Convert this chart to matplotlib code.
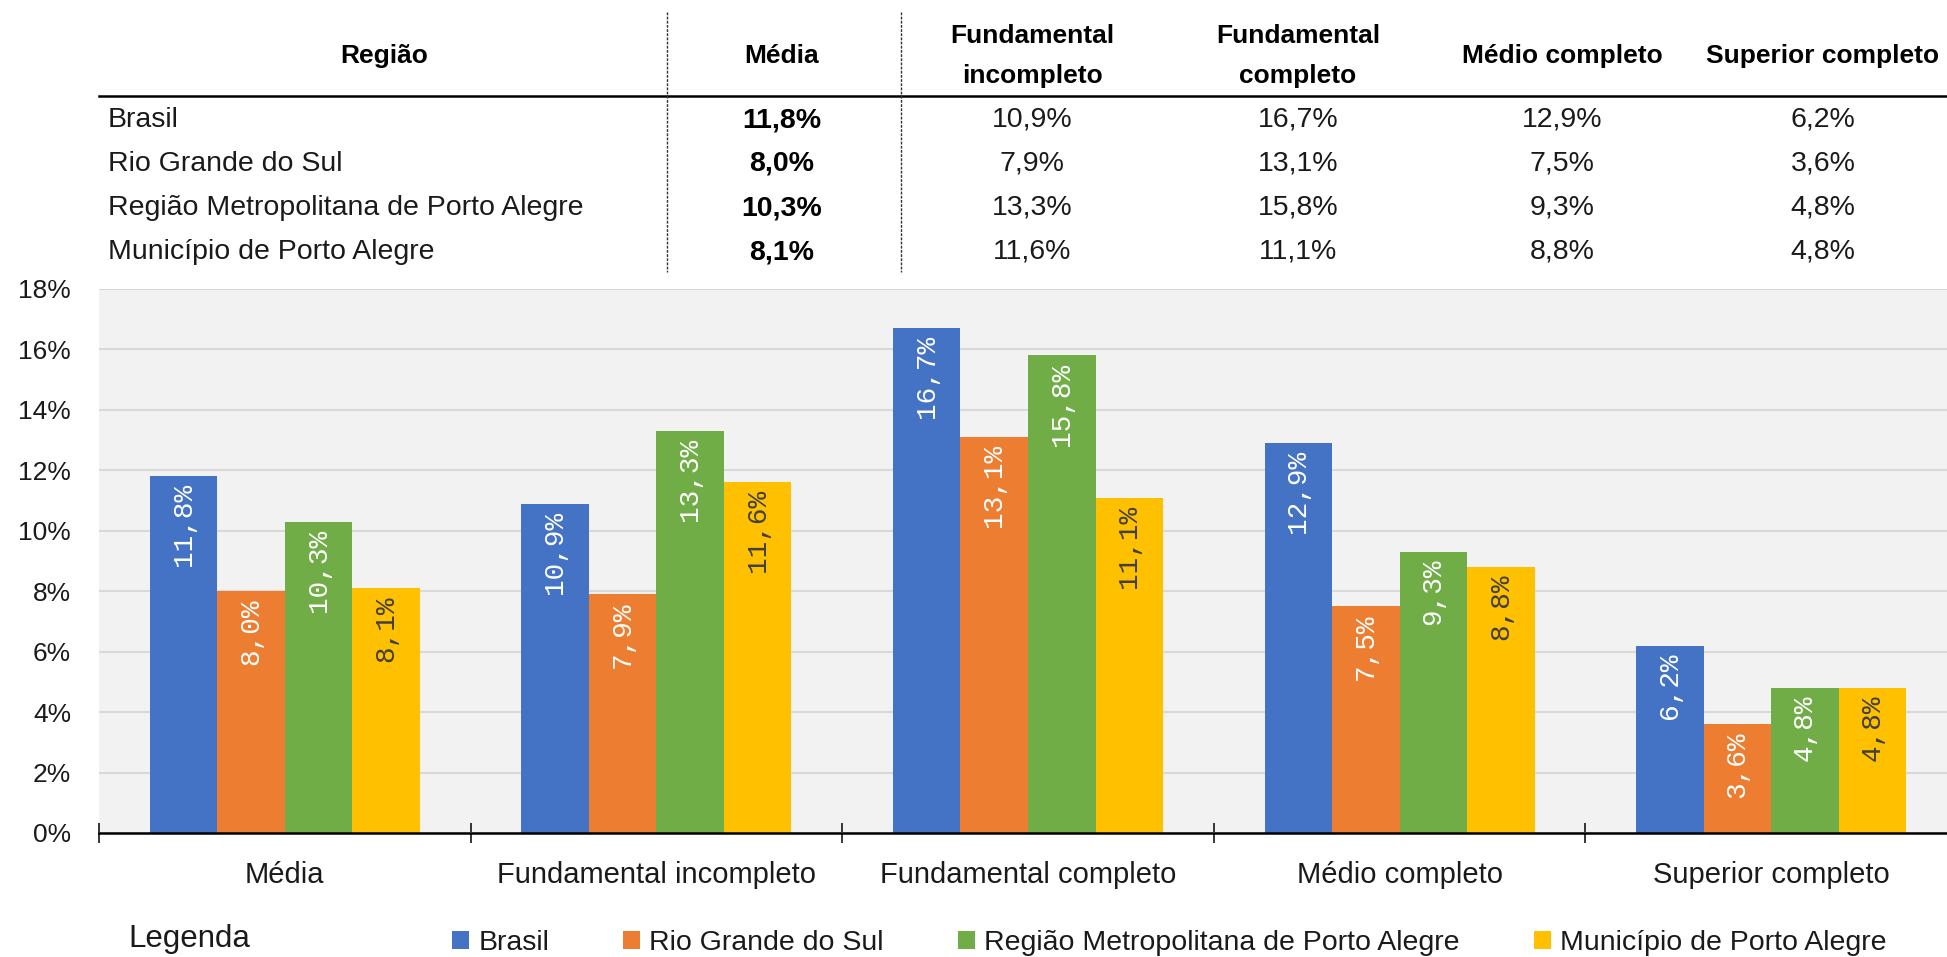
import matplotlib
matplotlib.use('Agg')
import matplotlib.pyplot as plt
from matplotlib.lines import Line2D
import numpy as np

# ---------------- data ----------------
categories = ['Média', 'Fundamental incompleto', 'Fundamental completo',
              'Médio completo', 'Superior completo']
table_headers = ['Média', 'Fundamental\nincompleto', 'Fundamental\ncompleto',
                 'Médio completo', 'Superior completo']
regions = ['Brasil', 'Rio Grande do Sul',
           'Região Metropolitana de Porto Alegre', 'Município de Porto Alegre']
brasil = [11.8, 10.9, 16.7, 12.9, 6.2]
rio_grande_do_sul = [8.0, 7.9, 13.1, 7.5, 3.6]
rm_porto_alegre = [10.3, 13.3, 15.8, 9.3, 4.8]
municipio_porto_alegre = [8.1, 11.6, 11.1, 8.8, 4.8]
y_ticks = [0, 2, 4, 6, 8, 10, 12, 14, 16, 18]

series = [brasil, rio_grande_do_sul, rm_porto_alegre, municipio_porto_alegre]
colors = ['#4472C4', '#ED7D31', '#70AD47', '#FFC000']
label_colors = ['white', 'white', 'white', '#404040']

plt.rcParams['font.family'] = ['Liberation Sans', 'DejaVu Sans']
TXT = '#1a1a1a'


def fmt(v):
    return f'{v:.1f}%'.replace('.', ',')


W, H = 1947, 957
fig = plt.figure(figsize=(W / 100, H / 100), dpi=100)
fig.patch.set_facecolor('white')


def fx(px):
    return px / W


def fy(py):
    return 1 - py / H


# ---------------- chart ----------------
ax = fig.add_axes([fx(99), fy(833), (1957 - 99) / W, (833 - 289) / H])
ax.set_facecolor('#F2F2F2')
ax.set_xlim(-0.5, len(categories) - 0.5)
ax.set_ylim(0, 18)
ax.set_axisbelow(True)
ax.yaxis.grid(True, color='#D9D9D9', linewidth=1.5)
for s in ['left', 'right', 'top']:
    ax.spines[s].set_visible(False)
ax.spines['bottom'].set_color('black')
ax.spines['bottom'].set_linewidth(1.8)

x = np.arange(len(categories))
w = 0.1817
handles = []
for i, (vals, col, tcol, name) in enumerate(zip(series, colors, label_colors, regions)):
    bars = ax.bar(x + (i - 1.5) * w, vals, w, color=col, linewidth=0, label=name)
    handles.append(bars)
    for b, v in zip(bars, vals):
        ax.annotate(fmt(v), xy=(b.get_x() + b.get_width() / 2, v),
                    xytext=(0, -5), textcoords='offset points',
                    rotation=90, ha='center', va='top',
                    fontsize=20, family=['Liberation Mono', 'DejaVu Sans Mono'],
                    color=tcol)

ax.set_yticks(y_ticks)
ax.set_yticklabels([f'{t}%' for t in y_ticks])
ax.tick_params(axis='y', length=0, pad=20, labelsize=19, labelcolor=TXT)
ax.set_xticks(x)
ax.set_xticklabels(categories)
ax.tick_params(axis='x', which='major', length=0, pad=20, labelsize=21, labelcolor=TXT)
ax.set_xticks(np.arange(-0.5, len(categories), 1.0), minor=True)
ax.tick_params(axis='x', which='minor', length=14, width=1.1,
               direction='inout', color='black')

# ---------------- table ----------------
col_x = [782, 1032, 1298, 1562, 1823]
row_y = [120, 164, 208, 252]

fig.text(fx(384), fy(63), 'Região', ha='center', va='baseline',
         fontsize=19, fontweight='bold', color='black')
for cx, hdr in zip(col_x, table_headers):
    if '\n' in hdr:
        l1, l2 = hdr.split('\n')
        fig.text(fx(cx), fy(43), l1, ha='center', va='baseline',
                 fontsize=19, fontweight='bold', color='black')
        fig.text(fx(cx), fy(83), l2, ha='center', va='baseline',
                 fontsize=19, fontweight='bold', color='black')
    else:
        fig.text(fx(cx), fy(63), hdr, ha='center', va='baseline',
                 fontsize=19, fontweight='bold', color='black')

fig.add_artist(Line2D([fx(99), 1.0], [fy(96), fy(96)], color='black',
                      lw=1.8, transform=fig.transFigure))
for lx in [667, 901]:
    fig.add_artist(Line2D([fx(lx), fx(lx)], [fy(12), fy(272)], color='#333333',
                          lw=1.0, linestyle=(0, (2, 1.0)),
                          transform=fig.transFigure))

for r, name in enumerate(regions):
    fig.text(fx(108), fy(row_y[r]), name, ha='left', va='center',
             fontsize=20.5, color=TXT)
for r, vals in enumerate(series):
    for c, v in enumerate(vals):
        fig.text(fx(col_x[c]), fy(row_y[r]), fmt(v), ha='center', va='center',
                 fontsize=20.5, color=TXT if c else 'black',
                 fontweight='bold' if c == 0 else 'normal')

# ---------------- legend ----------------
fig.text(fx(128), fy(947), 'Legenda', ha='left', va='baseline',
         fontsize=22.5, color=TXT)
leg = fig.legend(handles=handles, labels=regions, loc='center left',
                 bbox_to_anchor=(fx(452), fy(943)), ncol=4, frameon=False,
                 fontsize=20.5, handlelength=0.6, handleheight=0.6,
                 handletextpad=0.32, columnspacing=2.6,
                 borderpad=0, borderaxespad=0)
for t in leg.get_texts():
    t.set_color(TXT)

fig.savefig('out.png', dpi=100, facecolor='white')
